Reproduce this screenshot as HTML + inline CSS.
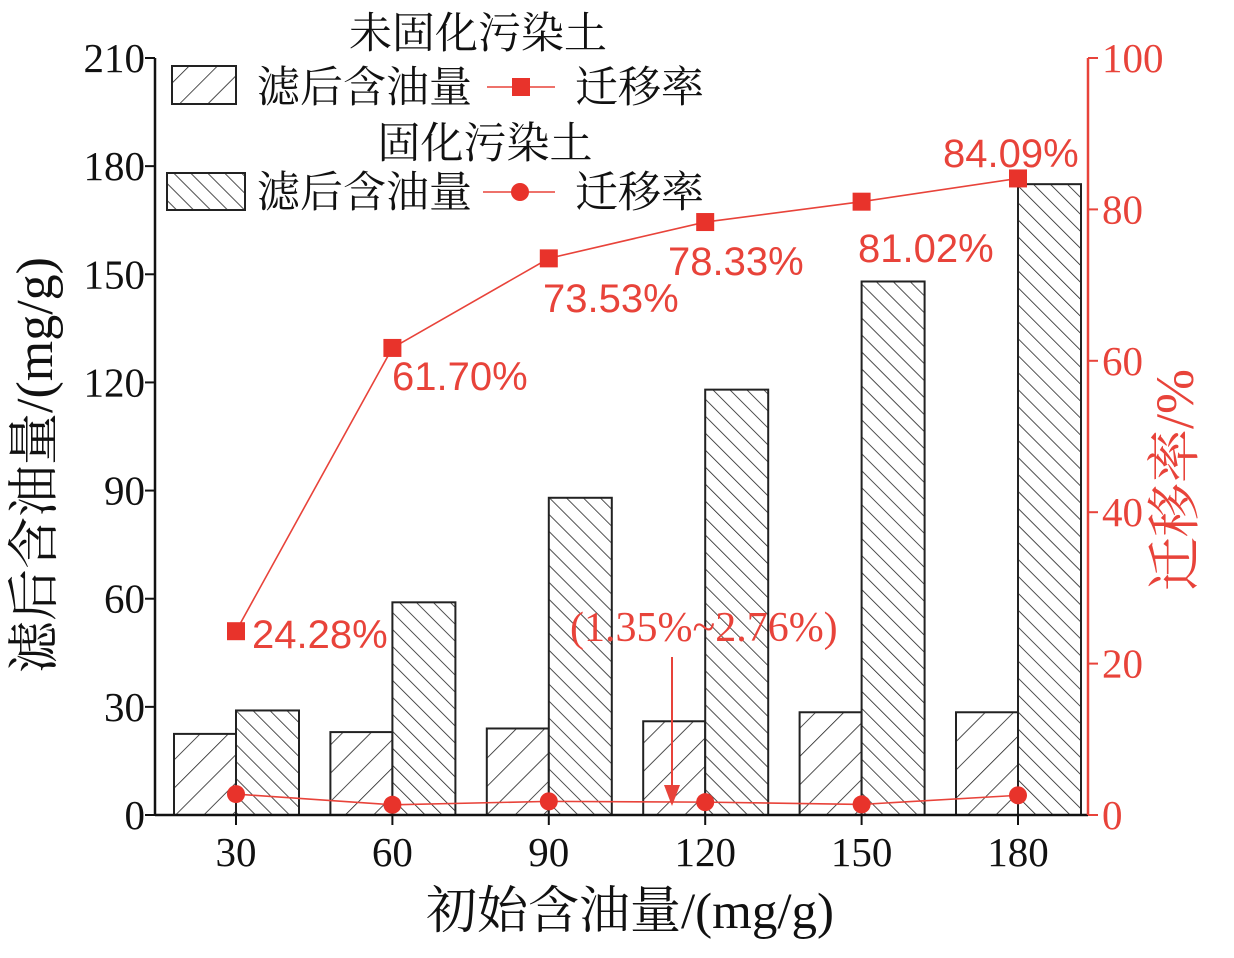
<!DOCTYPE html>
<html><head><meta charset="utf-8"><style>
body{margin:0;background:#fff}
svg text{font-family:"Liberation Serif","Noto Serif CJK SC",serif}
.r{font-family:"Liberation Sans","Noto Sans CJK SC",sans-serif}
</style></head><body>
<svg id="c" width="1234" height="953" xmlns="http://www.w3.org/2000/svg">
<defs>
<pattern id="p1" patternUnits="userSpaceOnUse" width="20" height="20" patternTransform="rotate(45)"><rect width="20" height="20" fill="#fff"/><line x1="0" y1="0" x2="0" y2="20" stroke="#222" stroke-width="1.6"/></pattern>
<pattern id="p2" patternUnits="userSpaceOnUse" width="12" height="12" patternTransform="rotate(-45)"><rect width="12" height="12" fill="#fff"/><line x1="0" y1="0" x2="0" y2="12" stroke="#222" stroke-width="1.6"/></pattern>
</defs>
<g id="bars"></g><g id="lines"></g><g id="axes"></g>
</svg>
<script>
const categories=[30,60,90,120,150,180];
const oilUnsolid=[22.5,23,24,26,28.5,28.5];
const oilSolid=[29,59,88,118,148,175];
const rateUnsolid=[24.28,61.70,73.53,78.33,81.02,84.09];
const rateSolid=[2.76,1.35,1.8,1.7,1.4,2.6];
const rateLabels=["24.28%","61.70%","73.53%","78.33%","81.02%","84.09%"];
const leftTicks=[0,30,60,90,120,150,180,210];
const rightTicks=[0,20,40,60,80,100];
const NS="http://www.w3.org/2000/svg";
const X0=155,X1=1088,Y0=815,Y1=58;
const xc=i=>236+i*156.4;
const yl=v=>Y0-(v/210)*(Y0-Y1);
const yr=v=>Y0-(v/100)*(Y0-Y1);
function mk(t,a,p,txt){const e=document.createElementNS(NS,t);for(const k in a)e.setAttribute(k,a[k]);if(txt!==undefined)e.textContent=txt;document.getElementById(p).appendChild(e);return e;}
categories.forEach((c,i)=>{
 let e=mk('rect',{x:xc(i)-62,y:yl(oilUnsolid[i]),width:62,height:Y0-yl(oilUnsolid[i]),fill:'url(#p1)',stroke:'#222','stroke-width':2},'bars');
 
 
 e=mk('rect',{x:xc(i),y:yl(oilSolid[i]),width:63,height:Y0-yl(oilSolid[i]),fill:'url(#p2)',stroke:'#222','stroke-width':2},'bars');
 
 
});
let e=mk('polyline',{points:rateUnsolid.map((v,i)=>xc(i)+','+yr(v)).join(' '),fill:'none',stroke:'#e8433a','stroke-width':1.6},'lines');


e=mk('polyline',{points:rateSolid.map((v,i)=>xc(i)+','+yr(v)).join(' '),fill:'none',stroke:'#e8433a','stroke-width':1.6},'lines');


const lp=[[252,648],[392,390],[543,312],[668,275],[858,262],[943,167]];
rateUnsolid.forEach((v,i)=>{
 let m=mk('rect',{x:xc(i)-9,y:yr(v)-9,width:18,height:18,fill:'#e8332b'},'lines');
 
 
 let t=mk('text',{x:lp[i][0],y:lp[i][1],'font-size':40,fill:'#e8433a',class:'r'},'lines',rateLabels[i]);
 
 
});
rateSolid.forEach((v,i)=>{
 let m=mk('circle',{cx:xc(i),cy:yr(v),r:9,fill:'#e8332b'},'lines');
 
 
});
mk('text',{x:570,y:641,'font-size':42,fill:'#e8433a'},'lines','(1.35%~2.76%)');
mk('line',{x1:672,y1:657,x2:672,y2:790,stroke:'#e8433a','stroke-width':2},'lines');
mk('polygon',{points:'664,785 680,785 672,806',fill:'#e8433a'},'lines');
mk('line',{x1:X0,y1:Y1,x2:X0,y2:Y0,stroke:'#111','stroke-width':2.5},'axes');
mk('line',{x1:X0,y1:Y0,x2:X1,y2:Y0,stroke:'#111','stroke-width':2.5},'axes');
mk('line',{x1:X1,y1:Y1,x2:X1,y2:Y0,stroke:'#e8433a','stroke-width':2.5},'axes');
leftTicks.forEach(v=>{mk('line',{x1:X0-10,y1:yl(v),x2:X0,y2:yl(v),stroke:'#111','stroke-width':2},'axes');
 let t=mk('text',{x:X0-10,y:yl(v)+14,'font-size':41,'text-anchor':'end',fill:'#111'},'axes',v);
 });
rightTicks.forEach(v=>{mk('line',{x1:X1,y1:yr(v),x2:X1+10,y2:yr(v),stroke:'#e8433a','stroke-width':2},'axes');
 let t=mk('text',{x:X1+14,y:yr(v)+14,'font-size':41,fill:'#e8433a'},'axes',v);
 });
categories.forEach((c,i)=>{mk('line',{x1:xc(i),y1:Y0,x2:xc(i),y2:Y0+10,stroke:'#111','stroke-width':2},'axes');
 let t=mk('text',{x:xc(i),y:866,'font-size':41,'text-anchor':'middle',fill:'#111'},'axes',c);
 });
mk('text',{x:630,y:928,'font-size':51,'text-anchor':'middle',fill:'#111'},'axes','初始含油量/(mg/g)');
mk('text',{x:0,y:0,'font-size':52,'text-anchor':'middle',fill:'#111',transform:'translate(52,465) rotate(-90)'},'axes','滤后含油量/(mg/g)');
mk('text',{x:0,y:0,'font-size':54,'text-anchor':'middle',fill:'#e8433a',transform:'translate(1193,480) rotate(-90)'},'axes','迁移率/%');
mk('text',{x:478,y:48,'font-size':43,'text-anchor':'middle',fill:'#111'},'axes','未固化污染土');
mk('rect',{x:172,y:66,width:64,height:38,fill:'url(#p1)',stroke:'#222','stroke-width':2},'axes');
mk('text',{x:257,y:102,'font-size':43,fill:'#111'},'axes','滤后含油量');
mk('line',{x1:487,y1:87,x2:555,y2:87,stroke:'#e8433a','stroke-width':1.6},'axes');
mk('rect',{x:512,y:78,width:18,height:18,fill:'#e8332b'},'axes');
mk('text',{x:575,y:102,'font-size':43,fill:'#111'},'axes','迁移率');
mk('text',{x:485,y:158,'font-size':43,'text-anchor':'middle',fill:'#111'},'axes','固化污染土');
mk('rect',{x:167,y:173,width:78,height:37,fill:'url(#p2)',stroke:'#222','stroke-width':2},'axes');
mk('text',{x:257,y:207,'font-size':43,fill:'#111'},'axes','滤后含油量');
mk('line',{x1:483,y1:192,x2:555,y2:192,stroke:'#e8433a','stroke-width':1.6},'axes');
mk('circle',{cx:520,cy:192,r:9,fill:'#e8332b'},'axes');
mk('text',{x:575,y:207,'font-size':43,fill:'#111'},'axes','迁移率');
</script>
</body></html>
